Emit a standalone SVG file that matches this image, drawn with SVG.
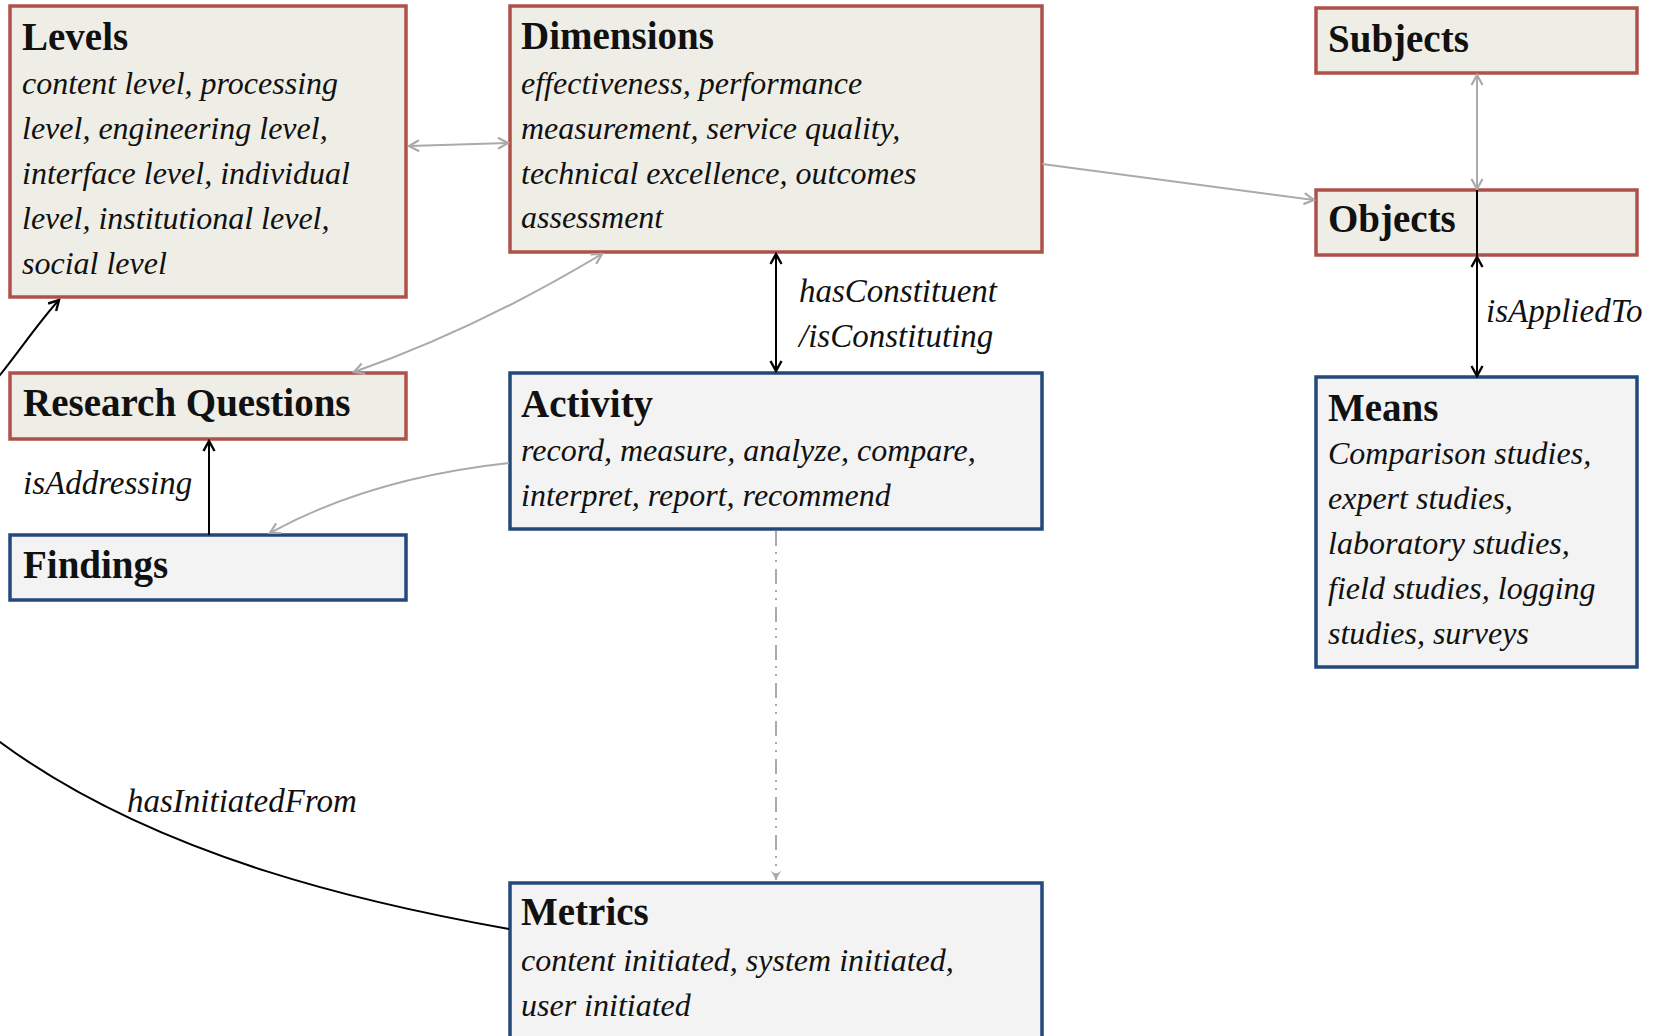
<svg xmlns="http://www.w3.org/2000/svg" width="1655" height="1036" viewBox="0 0 1655 1036">
<style>
.red{fill:#efeee6;stroke:#b0504b;stroke-width:3.5}
.blue{fill:#f3f3f3;stroke:#22497a;stroke-width:3.5}
.t{font-family:"Liberation Serif","Times New Roman",serif;font-weight:bold;font-size:39px;fill:#111}
.b{font-family:"Liberation Serif","Times New Roman",serif;font-style:italic;font-size:32px;fill:#111}
.l{font-family:"Liberation Serif","Times New Roman",serif;font-style:italic;font-size:33px;fill:#111}
.g{fill:none;stroke:#aaaaaa;stroke-width:2}
.k{fill:none;stroke:#000;stroke-width:2}
</style>
<defs>
<marker id="ag" viewBox="0 0 14 14" refX="12" refY="7" markerWidth="14" markerHeight="14" orient="auto-start-reverse" markerUnits="userSpaceOnUse"><path d="M2,1.5 L12,7 L2,12.5" fill="none" stroke="#aaaaaa" stroke-width="2.2"/></marker>
<marker id="ak" viewBox="0 0 14 14" refX="12" refY="7" markerWidth="14" markerHeight="14" orient="auto-start-reverse" markerUnits="userSpaceOnUse"><path d="M2,1.5 L12,7 L2,12.5" fill="none" stroke="#000" stroke-width="2.4"/></marker>
<marker id="agf" viewBox="0 0 12 12" refX="10" refY="6" markerWidth="12" markerHeight="12" orient="auto" markerUnits="userSpaceOnUse"><path d="M1,1 L10,6 L1,11 L4,6 Z" fill="#aaaaaa"/></marker>
</defs>

<g id="levels">
<rect class="red" x="10" y="6" width="396" height="291"/>
<text class="t" x="22" y="50">Levels</text>
<text class="b" x="22" y="94">content level, processing</text>
<text class="b" x="22" y="139">level, engineering level,</text>
<text class="b" x="22" y="184">interface level, individual</text>
<text class="b" x="22" y="229">level, institutional level,</text>
<text class="b" x="22" y="274">social level</text>
</g>

<g id="dimensions">
<rect class="red" x="510" y="6" width="532" height="246"/>
<text class="t" x="521" y="49">Dimensions</text>
<text class="b" x="521" y="94">effectiveness, performance</text>
<text class="b" x="521" y="139">measurement, service quality,</text>
<text class="b" x="521" y="184">technical excellence, outcomes</text>
<text class="b" x="521" y="228">assessment</text>
</g>

<g id="subjects">
<rect class="red" x="1316" y="8" width="321" height="65"/>
<text class="t" x="1328" y="52">Subjects</text>
</g>

<g id="objects">
<rect class="red" x="1316" y="190" width="321" height="65"/>
<text class="t" x="1328" y="232">Objects</text>
</g>

<g id="research-questions">
<rect class="red" x="10" y="373" width="396" height="66"/>
<text class="t" x="23" y="416">Research Questions</text>
</g>

<g id="findings">
<rect class="blue" x="10" y="535" width="396" height="65"/>
<text class="t" x="23" y="578">Findings</text>
</g>

<g id="activity">
<rect class="blue" x="510" y="373" width="532" height="156"/>
<text class="t" x="521" y="417">Activity</text>
<text class="b" x="521" y="461">record, measure, analyze, compare,</text>
<text class="b" x="521" y="506">interpret, report, recommend</text>
</g>

<g id="means">
<rect class="blue" x="1316" y="377" width="321" height="290"/>
<text class="t" x="1328" y="421">Means</text>
<text class="b" x="1328" y="464">Comparison studies,</text>
<text class="b" x="1328" y="509">expert studies,</text>
<text class="b" x="1328" y="554">laboratory studies,</text>
<text class="b" x="1328" y="599">field studies, logging</text>
<text class="b" x="1328" y="644">studies, surveys</text>
</g>

<g id="metrics">
<rect class="blue" x="510" y="883" width="532" height="170"/>
<text class="t" x="521" y="925">Metrics</text>
<text class="b" x="521" y="971">content initiated, system initiated,</text>
<text class="b" x="521" y="1016">user initiated</text>
</g>

<g id="connectors">
<path class="g" d="M409,146 L508,143" marker-start="url(#ag)" marker-end="url(#ag)"/>
<path class="g" d="M1042,164 L1314,200" marker-end="url(#ag)"/>
<path class="g" d="M354,372 Q475,330 602,254" marker-start="url(#ag)" marker-end="url(#ag)"/>
<path class="g" d="M509,463 Q370,478 270,533" marker-end="url(#ag)"/>
<path class="k" d="M209,535 L209,441" marker-end="url(#ak)"/>
<path class="k" d="M776,254 L776,371" marker-start="url(#ak)" marker-end="url(#ak)"/>
<path class="g" d="M1477,75 L1477,189" marker-start="url(#ag)" marker-end="url(#ag)"/>
<path class="k" d="M1477,376 L1477,257 L1477,190" marker-start="url(#ak)" marker-mid="url(#ak)"/>
<path class="g" d="M776,531 L776,880" stroke-dasharray="15 6 2 6 2 7" marker-end="url(#agf)"/>
<path class="k" d="M509,929 C380,906 160,860 0,742 C-90,676 -60,451 0,375 C20,350 42,318 59,300" marker-end="url(#ak)"/>
<text class="l" x="799" y="302">hasConstituent</text>
<text class="l" x="799" y="347">/isConstituting</text>
<text class="l" x="1486" y="322">isAppliedTo</text>
<text class="l" x="23" y="494">isAddressing</text>
<text class="l" x="127" y="812">hasInitiatedFrom</text>
</g>
</svg>
